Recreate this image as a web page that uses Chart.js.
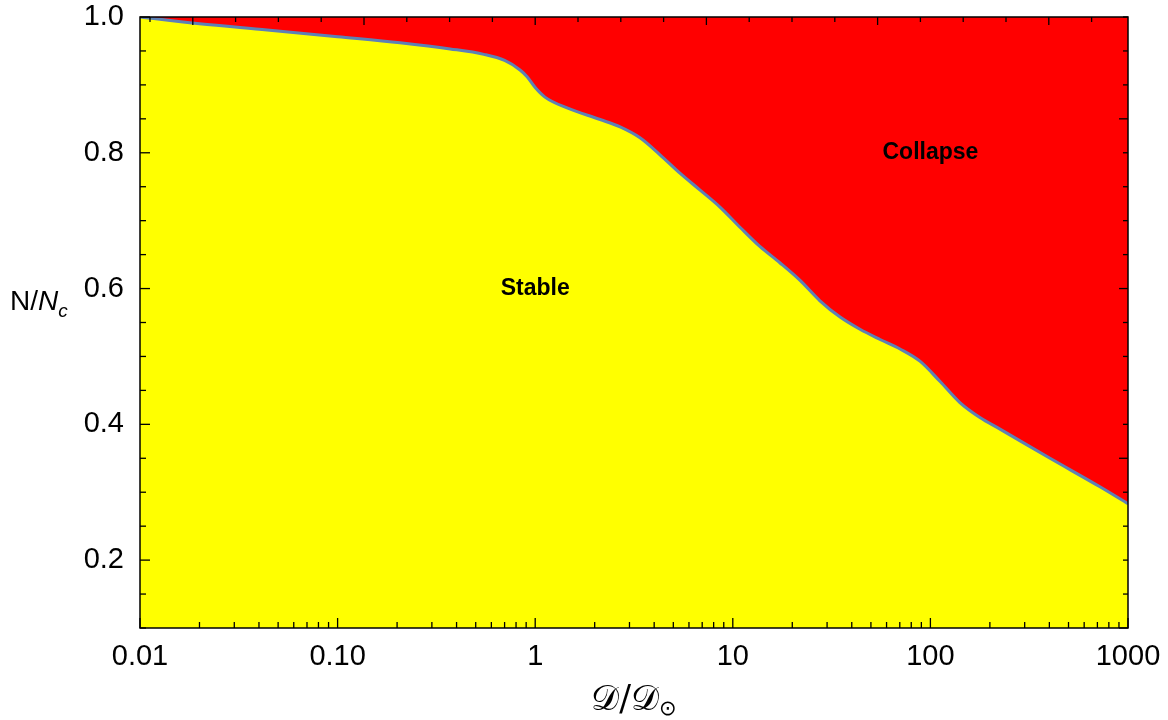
<!DOCTYPE html>
<html>
<head>
<meta charset="utf-8">
<script src="https://cdn.jsdelivr.net/npm/chart.js@4"></script>
<style>
  body { margin: 0; background: #fff; }
  #wrap { width: 1168px; height: 720px; }
</style>
</head>
<body>
<div id="wrap"><canvas id="grafico" width="1168" height="720"></canvas></div>
<script>
// boundary between stable and collapse regions
const densityRatio = [0.01, 0.02, 0.044, 0.1, 0.207, 0.371, 0.55, 0.70, 0.838, 0.91, 1.0, 1.12, 1.45, 2.13, 2.69, 3.39, 4.28, 5.40, 6.83, 8.61, 10.9, 13.7, 17.3, 21.9, 27.6, 34.9, 44.0, 55.6, 70.2, 88.5, 112, 141, 178, 225, 403, 721, 1000];
const criticalN = [1.0, 0.99, 0.981, 0.971, 0.962, 0.953, 0.945, 0.936, 0.922, 0.912, 0.896, 0.882, 0.866, 0.849, 0.838, 0.822, 0.797, 0.770, 0.745, 0.720, 0.690, 0.662, 0.638, 0.612, 0.582, 0.558, 0.540, 0.525, 0.511, 0.493, 0.463, 0.432, 0.410, 0.393, 0.350, 0.308, 0.283];

const xTickValues = [0.01, 0.1, 1, 10, 100, 1000];
const xTickLabels = ['0.01', '0.10', '1', '10', '100', '1000'];
const yTickValues = [0.2, 0.4, 0.6, 0.8, 1.0];

const regionLabels = ['Stable', 'Collapse'];
const regionX = [1, 100];
const regionY = [0.6, 0.8];

const pontos = densityRatio.map((d, i) => ({ x: d, y: criticalN[i] }));

const fonte = "'Liberation Sans', Arial, sans-serif";

// frame with inward ticks on all four sides, titles and region labels
const moldura = {
  id: 'moldura',
  afterDatasetsDraw(chart) {
    const { ctx, chartArea: a, scales: { x, y } } = chart;
    ctx.save();
    ctx.strokeStyle = '#000';
    ctx.lineWidth = 1.3;

    const tickV = (px, len, fromTop) => {
      ctx.beginPath();
      if (fromTop) { ctx.moveTo(px, a.top); ctx.lineTo(px, a.top + len); }
      else { ctx.moveTo(px, a.bottom); ctx.lineTo(px, a.bottom - len); }
      ctx.stroke();
    };
    const tickH = (py, len, fromLeft) => {
      ctx.beginPath();
      if (fromLeft) { ctx.moveTo(a.left, py); ctx.lineTo(a.left + len, py); }
      else { ctx.moveTo(a.right, py); ctx.lineTo(a.right - len, py); }
      ctx.stroke();
    };

    // bottom: log ticks
    for (let d = -2; d <= 2; d++) {
      for (let m = 1; m <= 9; m++) {
        tickV(x.getPixelForValue(m * Math.pow(10, d)), m === 1 ? 10 : 6, false);
      }
    }
    tickV(x.getPixelForValue(1000), 10, false);

    // top: evenly spaced ticks in log space
    for (let k = -9; k <= 13; k++) {
      const v = Math.pow(10, k * 0.2166);
      tickV(x.getPixelForValue(v), k % 4 === 0 ? 8 : 5, true);
    }

    // left and right ticks every 0.05
    for (let i = 0; i <= 18; i++) {
      const py = y.getPixelForValue(0.1 + i * 0.05);
      tickH(py, i % 4 === 2 ? 10 : 6, true);
      tickH(py, i % 5 === 0 ? 9 : 5, false);
    }

    ctx.lineWidth = 1.5;
    ctx.strokeRect(a.left, a.top, a.right - a.left, a.bottom - a.top);

    // region labels
    ctx.fillStyle = '#000';
    ctx.font = 'bold 23px ' + fonte;
    ctx.textAlign = 'center';
    ctx.textBaseline = 'middle';
    regionLabels.forEach((t, i) => {
      ctx.fillText(t, x.getPixelForValue(regionX[i]), y.getPixelForValue(regionY[i]));
    });

    // y title: N/N_c
    ctx.textAlign = 'left';
    ctx.textBaseline = 'alphabetic';
    let px = 10;
    const base = 310;
    ctx.font = '28px ' + fonte;
    ctx.fillText('N/', px, base);
    px += ctx.measureText('N/').width;
    ctx.font = 'italic 28px ' + fonte;
    ctx.fillText('N', px, base);
    px += ctx.measureText('N').width;
    ctx.font = 'italic 19px ' + fonte;
    ctx.fillText('c', px, base + 7);

    // x title: D/D_sun
    const partes = [['𝒟/𝒟', "35px 'DejaVu Serif', serif", 0], ['\u2299', "21px 'DejaVu Sans', sans-serif", 5]];
    let w = 0;
    partes.forEach(p => { ctx.font = p[1]; w += ctx.measureText(p[0]).width; });
    px = (a.left + a.right) / 2 - w / 2;
    partes.forEach(p => {
      ctx.font = p[1];
      ctx.fillText(p[0], px, 710 + p[2]);
      px += ctx.measureText(p[0]).width;
    });
    ctx.restore();
  }
};

const ctx = document.getElementById('grafico').getContext('2d');
new Chart(ctx, {
  type: 'line',
  data: {
    datasets: [
      {
        label: 'Stable',
        data: pontos,
        fill: 'start',
        backgroundColor: 'rgb(255, 255, 0)',
        borderWidth: 0,
        pointRadius: 0,
        order: 2,
        cubicInterpolationMode: 'monotone'
      },
      {
        label: 'Collapse',
        data: pontos,
        fill: 'end',
        backgroundColor: 'rgb(255, 0, 0)',
        borderColor: 'rgb(94, 129, 181)',
        borderWidth: 3,
        pointRadius: 0,
        order: 1,
        cubicInterpolationMode: 'monotone'
      }
    ]
  },
  options: {
    responsive: false,
    animation: false,
    layout: { padding: { top: 17, right: 40, left: 0, bottom: 0 } },
    plugins: { legend: { display: false }, tooltip: { enabled: false } },
    scales: {
      x: {
        type: 'logarithmic',
        min: 0.01,
        max: 1000,
        grid: { display: false },
        border: { display: false },
        afterBuildTicks: s => { s.ticks = xTickValues.map(v => ({ value: v })); },
        afterFit: s => { s.height = 92; s.paddingLeft = 0; s.paddingRight = 0; },
        ticks: {
          autoSkip: false,
          maxRotation: 0,
          padding: 4,
          color: '#000',
          font: { family: fonte, size: 29 },
          callback: (v, i) => xTickLabels[i]
        }
      },
      y: {
        min: 0.1,
        max: 1.0,
        grid: { display: false },
        border: { display: false },
        afterBuildTicks: s => { s.ticks = yTickValues.map(v => ({ value: v })); },
        afterFit: s => { s.width = 140; s.paddingTop = 0; s.paddingBottom = 0; },
        ticks: {
          padding: 8,
          color: '#000',
          font: { family: fonte, size: 29 },
          callback: v => v.toFixed(1)
        }
      }
    }
  },
  plugins: [moldura]
});
</script>
</body>
</html>
